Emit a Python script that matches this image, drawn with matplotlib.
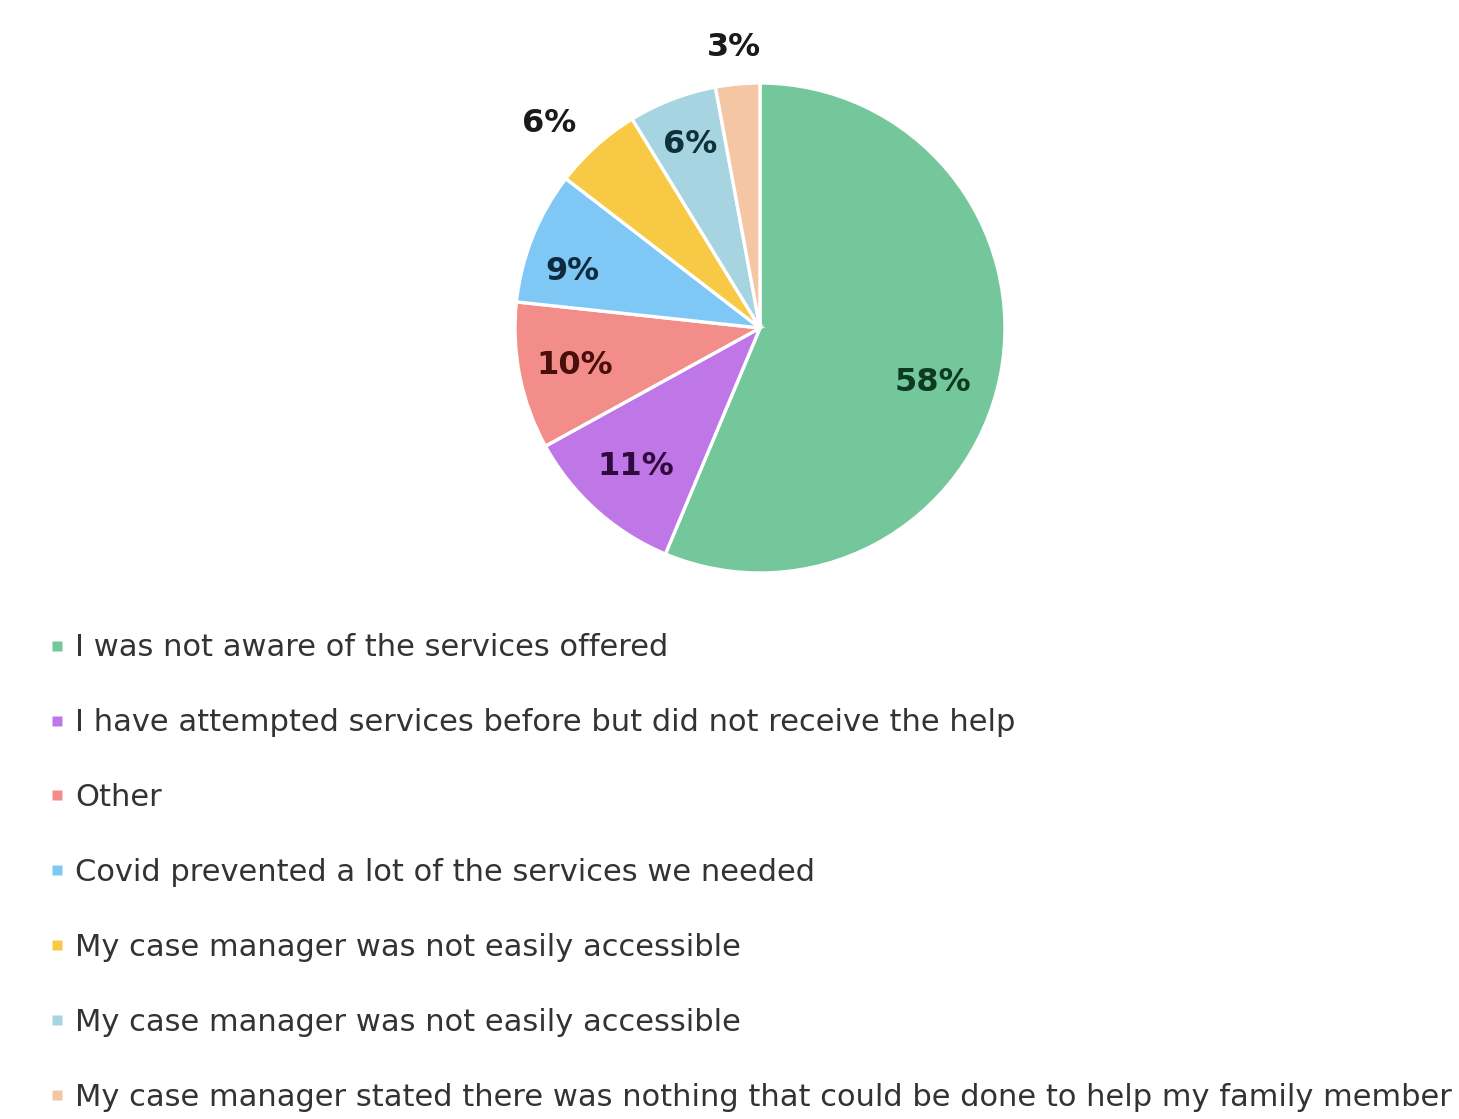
import numpy as np
import matplotlib.pyplot as plt
from matplotlib.lines import Line2D

reasons = [
    "I was not aware of the services offered",
    "I have attempted services before but did not receive the help",
    "Other",
    "Covid prevented a lot of the services we needed",
    "My case manager was not easily accessible",
    "My case manager was not easily accessible",
    "My case manager stated there was nothing that could be done to help my family member",
]
shares = [58, 11, 10, 9, 6, 6, 3]
colors = ["#74C69B", "#BF76E6", "#F28D8A", "#7FC8F6", "#F8C945", "#A6D5E1", "#F4C6A4"]
label_colors = ["#0C3A22", "#2E0A3E", "#4A0E0C", "#0E2A3E", "#1A1A1A", "#10303A", "#1A1A1A"]
# label placement: distance in pie radii and angular nudge in degrees
label_radius = [0.74, 0.76, 0.77, 0.80, 1.20, 0.80, 1.15]
label_nudge = [-6, 0, 0, 5, 4, 0, 0]

W, H = 1459, 1119
fig = plt.figure(figsize=(W / 100, H / 100), dpi=100)

cx, cy, r = 760, 328, 245
ax = fig.add_axes([(cx - r) / W, (H - cy - r) / H, 2 * r / W, 2 * r / H])
wedges, _ = ax.pie(shares, colors=colors, startangle=90, counterclock=False,
                   wedgeprops=dict(edgecolor="white", linewidth=2.4))
ax.set_xlim(-1, 1)
ax.set_ylim(-1, 1)
ax.set_aspect("equal")
ax.axis("off")

for w, val, col, rad, nudge in zip(wedges, shares, label_colors, label_radius, label_nudge):
    ang = np.deg2rad((w.theta1 + w.theta2) / 2 + nudge)
    ax.text(rad * np.cos(ang), rad * np.sin(ang), f"{val}%", ha="center", va="center",
            fontsize=23, fontweight="bold", color=col, family="DejaVu Sans")

handles = [Line2D([], [], marker="s", linestyle="none", markersize=7,
                  markerfacecolor=c, markeredgecolor="none") for c in colors]
fig.legend(handles, reasons, loc="upper left", bbox_to_anchor=(20 / W, 1 - 606 / H),
           frameon=False, handlelength=0.6, handletextpad=0.3, labelspacing=1.5,
           prop=dict(family="DejaVu Sans", size=22), labelcolor="#333333")

fig.savefig("out.png", dpi=100)
